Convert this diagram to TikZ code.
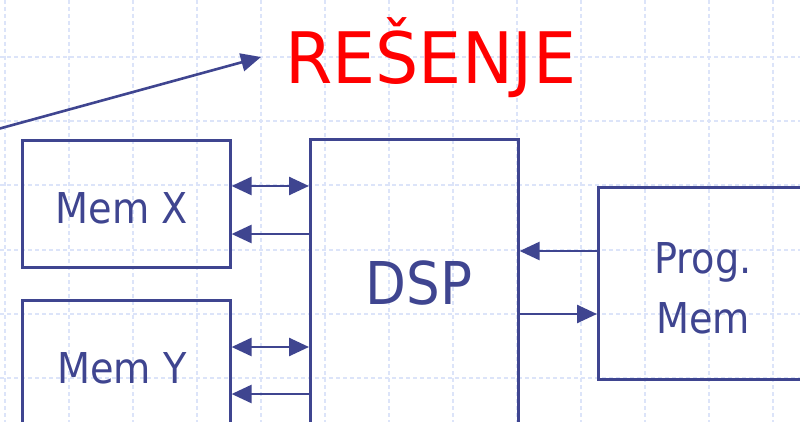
\documentclass[tikz,border=0pt]{standalone}
\usepackage{fontspec}
\setmainfont[FakeStretch=0.9]{DejaVu Sans}
\newfontfamily\titlefont[FakeStretch=0.96]{DejaVu Sans}
\usetikzlibrary{arrows.meta}
\definecolor{dblue}{HTML}{3F4590}
\definecolor{gridc}{HTML}{DCE4F9}
\tikzset{
  boxx/.style={draw=dblue, line width=2.6pt, inner sep=0pt},
  conn/.style={draw=dblue, line width=2.6pt, -{Triangle[length=20pt,width=18pt]}},
  bconn/.style={draw=dblue, line width=2.6pt, {Triangle[length=20pt,width=18pt]}-{Triangle[length=20pt,width=18pt]}},
  gridl/.style={draw=gridc, line width=2pt, dash pattern=on 4pt off 3pt},
  lbl/.style={text=dblue, inner sep=0pt, anchor=base},
}
\begin{document}
\begin{tikzpicture}[x=1pt,y=-1pt]
\useasboundingbox (0,0) rectangle (800,422);
\fill[white] (0,0) rectangle (800,422);
% grid
\foreach \i in {0,...,12} {\draw[gridl] ({5+64*\i},0) -- ({5+64*\i},422);}
\foreach \j in {0,...,5} {\draw[gridl] (0,{57+64.2*\j}) -- (800,{57+64.2*\j});}
% boxes
\node[boxx, minimum width=208pt, minimum height=127pt, anchor=north west] (memx) at (21,139) {};
\node[boxx, minimum width=208pt, minimum height=140pt, anchor=north west] (memy) at (21,299) {};
\node[boxx, minimum width=208pt, minimum height=300pt, anchor=north west] (dsp) at (309,138) {};
\node[boxx, minimum width=240pt, minimum height=192pt, anchor=north west] (prog) at (597,186) {};
% labels
\node[lbl, font=\fontsize{42.5}{50}\selectfont] (tmx) at (122,223) {Mem X};
\node[lbl, font=\fontsize{42.5}{50}\selectfont] (tmy) at (122,383) {Mem Y};
\node[lbl, font=\fontsize{59}{70}\selectfont] (tdsp) at (419,304) {DSP};
\node[lbl, font=\fontsize{42.5}{50}\selectfont] (tp1) at (703,273) {Prog.};
\node[lbl, font=\fontsize{42.5}{50}\selectfont] (tp2) at (703,333) {Mem};
\node[inner sep=0pt, anchor=base west, text=red, font=\titlefont\fontsize{71}{80}\selectfont] (res) at (285,84) {REŠENJE};
% connectors
\draw[bconn] (memx.east |- 0,186) -- (dsp.west |- 0,186);
\draw[conn] (dsp.west |- 0,234) -- (memx.east |- 0,234);
\draw[bconn] (memy.east |- 0,347) -- (dsp.west |- 0,347);
\draw[conn] (dsp.west |- 0,394) -- (memy.east |- 0,394);
\draw[conn] (prog.west |- 0,251) -- (dsp.east |- 0,251);
\draw[conn] (dsp.east |- 0,314) -- (prog.west |- 0,314);
\coordinate (s) at (-2,129);
\coordinate (t) at (261,57);
\draw[conn] (s) -- (t);
\end{tikzpicture}
\end{document}
